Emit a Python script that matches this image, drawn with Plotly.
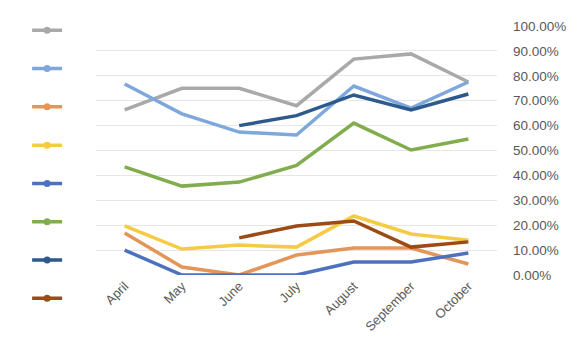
import plotly.graph_objects as go

months = ["April", "May", "June", "July", "August", "September", "October"]

gray = [0.663, 0.75, 0.75, 0.68, 0.867, 0.888, 0.775]
light_blue = [0.767, 0.647, 0.574, 0.562, 0.759, 0.67, 0.775]
orange = [0.169, 0.032, 0.0, 0.08, 0.108, 0.108, 0.044]
yellow = [0.197, 0.104, 0.12, 0.112, 0.237, 0.165, 0.14]
blue = [0.10, 0.0, 0.0, 0.0, 0.052, 0.052, 0.088]
green = [0.434, 0.357, 0.373, 0.44, 0.61, 0.502, 0.546]
dark_blue = [None, None, 0.60, 0.64, 0.723, 0.663, 0.727]
brown = [None, None, 0.149, 0.197, 0.217, 0.112, 0.133]

series = [
    (gray, "#A9A9A9"),
    (light_blue, "#7EA8DC"),
    (orange, "#E3955A"),
    (yellow, "#F5CB45"),
    (blue, "#4C72BF"),
    (green, "#82AD4E"),
    (dark_blue, "#2D5A8C"),
    (brown, "#9C4B16"),
]

fig = go.Figure()
for vals, col in series:
    fig.add_trace(go.Scatter(x=months, y=vals, mode="lines",
                             line=dict(color=col, width=3.5),
                             showlegend=False, connectgaps=False))
for i, (vals, col) in enumerate(series):
    fig.add_trace(go.Scatter(x=[None], y=[None], mode="lines+markers", name=" ",
                             line=dict(color=col, width=3.5),
                             marker=dict(color=col, size=7),
                             legendgroup=f"g{i}", showlegend=True))

fig.update_layout(
    width=577, height=350,
    margin=dict(l=96, r=80, t=26, b=75),
    plot_bgcolor="white", paper_bgcolor="white",
    font=dict(family="Liberation Sans, Arial", size=13, color="#595959"),
    showlegend=True,
    legend=dict(x=0.047, xref="container", xanchor="left",
                y=0.955, yref="container", yanchor="top",
                orientation="v", tracegroupgap=19.3, maxheight=1.0,
                font=dict(size=12), bgcolor="rgba(0,0,0,0)"),
    xaxis=dict(showgrid=False, showline=False, zeroline=False, tickangle=-45,
               range=[-0.5, 6.5],
               ticks="", tickfont=dict(size=13, color="#595959")),
    yaxis=dict(side="right", range=[0, 1], dtick=0.1, tickformat=".2%",
               showgrid=True, gridcolor="#E6E6E6", gridwidth=1, zeroline=False,
               showline=False, ticks="", ticklabelstandoff=15,
               tickfont=dict(size=13.5, color="#595959")),
)
fig.write_html("out.html")
